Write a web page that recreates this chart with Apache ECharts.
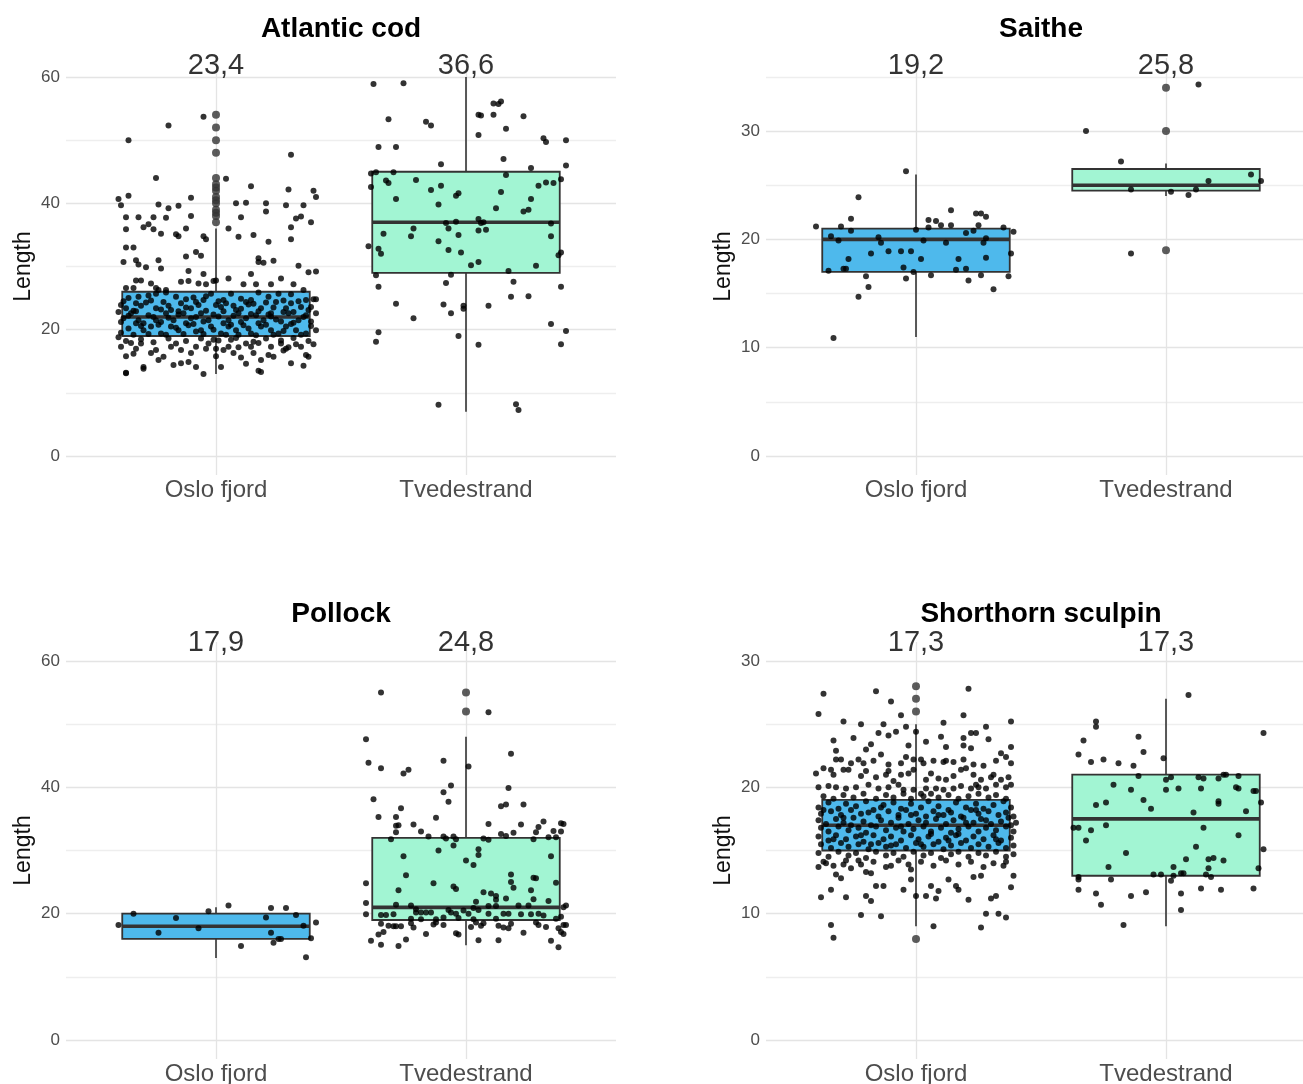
<!DOCTYPE html>
<html><head><meta charset="utf-8">
<script src="https://cdn.jsdelivr.net/npm/echarts@6/dist/echarts.min.js"></script>
<style>html,body{margin:0;padding:0;background:#fff}#c{width:1303px;height:1084px}</style>
</head><body><div id="c"></div><script>
// ---------- data ----------
const sites = ['Oslo fjord', 'Tvedestrand'];
const species = ['Atlantic cod', 'Saithe', 'Pollock', 'Shorthorn sculpin'];

// mean lengths per site
const meanCod = [23.4, 36.6];
const meanSai = [19.2, 25.8];
const meanPol = [17.9, 24.8];
const meanScu = [17.3, 17.3];

// box stats per site: [lower whisker, Q1, median, Q3, upper whisker]
const boxCod = [[13, 19, 22, 26, 36], [7, 29, 37, 45, 60]];
const boxSai = [[11, 17, 20, 21, 26], [24, 24.5, 25, 26.5, 27]];
const boxPol = [[13, 16, 18, 20, 21], [15, 19, 21, 32, 48]];
const boxScu = [[9, 15, 17, 19, 25], [9, 13, 17.5, 21, 27]];

// boxplot outliers
const outCodOslo = [37, 38, 38.5, 39, 40, 40.5, 41, 42, 42.5, 43, 44, 48, 50, 52, 54];
const outCodTved = [];
const outSaiOslo = [];
const outSaiTved = [34, 30, 19];
const outPolOslo = [];
const outPolTved = [55, 52];
const outScuOslo = [28, 27, 26, 8];
const outScuTved = [];

// jittered observations: [horizontal jitter, length]
const jitCodOslo = [
[-0.05,53.7],[-0.19,52.3],[-0.35,50.0],[0.30,47.7],[-0.24,44.0],[0.04,43.9],[0.14,42.7],[0.29,42.2],[0.39,42.0],[0.40,41.0],[-0.39,40.7],[-0.35,41.2],[-0.38,39.7],[-0.10,40.9],[-0.23,39.8],[-0.15,39.6],[-0.19,39.2],[0.08,40.0],[0.12,40.1],[0.20,40.0],[0.28,39.7],[0.35,39.7],[0.20,38.7],[-0.36,37.8],[-0.31,37.8],[-0.25,37.8],[-0.20,37.7],[-0.10,38.0],[0.10,37.8],[0.32,37.6],[0.34,37.9],[0.38,37.0],[-0.36,35.9],[-0.29,36.2],[-0.27,36.7],[-0.25,35.9],[-0.22,35.2],[-0.12,36.0],[-0.16,35.1],[-0.15,34.8],[0.05,36.0],[0.30,36.2],[-0.05,34.8],[-0.04,34.3],[0.09,34.7],[0.15,35.0],[0.30,34.3],[0.21,33.9],[-0.36,33.0],[-0.33,33.0],[-0.08,32.3],[-0.06,31.7],[-0.12,31.6],[-0.37,30.7],[-0.32,31.0],[-0.31,30.3],[-0.28,29.9],[-0.23,31.0],[-0.22,29.7],[0.17,31.3],[0.17,30.7],[0.19,30.6],[0.23,30.9],[0.33,30.1],[-0.11,29.3],[0.37,29.1],[0.40,29.2],[0.14,28.8],[-0.05,28.8],[0.05,28.1],[0.26,28.1],[-0.32,27.8],[-0.30,27.8],[-0.14,27.6],[-0.11,27.7],[-0.01,27.7],[0.00,27.8],[0.16,27.2],[0.22,27.2],[0.31,27.2],[-0.36,26.6],[-0.33,26.6],[-0.26,27.3],[-0.24,26.6],[-0.23,26.3],[-0.20,26.3],[-0.07,27.3],[-0.04,27.2],[0.11,27.2],
[-0.35,25.0],[-0.31,25.2],[-0.27,25.4],[-0.24,25.7],[-0.20,25.9],[-0.16,25.2],[-0.12,24.8],[-0.09,25.1],[-0.04,25.3],[-0.02,25.7],[0.03,24.7],[0.06,25.7],[0.10,24.9],[0.14,24.7],[0.17,25.9],[0.21,25.2],[0.25,25.7],[0.30,25.6],[0.35,26.3],[0.36,24.7],[0.39,24.8],
[-0.38,23.9],[-0.36,23.4],[-0.32,24.2],[-0.28,24.3],[-0.24,23.4],[-0.21,24.4],[-0.18,23.1],[-0.14,24.2],[-0.10,23.4],[-0.07,23.9],[-0.05,24.7],[0.00,23.9],[0.02,23.6],[0.04,24.2],[0.08,23.1],[0.12,24.4],[0.15,24.1],[0.18,23.4],[0.22,22.6],[0.24,24.4],[0.28,23.4],[0.30,24.2],[0.34,23.6],[0.37,23.1],[0.40,24.8],
[-0.37,24.5],[-0.33,23.0],[-0.30,23.8],[-0.26,24.6],[-0.22,23.2],[-0.19,23.8],[-0.15,22.9],[-0.12,23.5],[-0.08,24.4],[-0.04,23.0],[0.01,24.5],[0.03,22.9],[0.07,23.8],[0.10,23.3],[0.13,24.0],[0.17,22.9],[0.20,24.3],[0.23,23.5],[0.27,24.6],[0.31,22.8],[0.33,24.5],[0.38,23.6],
[-0.39,22.8],[-0.37,21.8],[-0.34,22.6],[-0.31,21.5],[-0.27,22.3],[-0.24,21.5],[-0.20,22.6],[-0.17,21.5],[-0.13,22.6],[-0.10,21.8],[-0.06,22.6],[-0.03,21.5],[0.01,22.1],[0.05,21.5],[0.09,22.6],[0.12,21.8],[0.16,22.3],[0.19,21.5],[0.22,22.1],[0.26,21.3],[0.29,22.6],[0.33,21.5],[0.36,22.3],[0.40,22.6],
[-0.38,21.2],[-0.35,22.2],[-0.32,22.9],[-0.29,21.0],[-0.25,22.0],[-0.22,21.2],[-0.19,21.9],[-0.15,22.4],[-0.12,21.0],[-0.08,22.0],[-0.05,21.3],[-0.01,22.4],[0.03,21.0],[0.07,22.2],[0.10,21.2],[0.14,22.5],[0.17,21.0],[0.21,22.4],[0.24,21.6],[0.27,22.8],[0.31,21.1],[0.35,22.0],[0.38,21.3],
[-0.35,20.2],[-0.32,21.0],[-0.29,19.9],[-0.26,20.5],[-0.22,19.4],[-0.18,20.5],[-0.15,19.9],[-0.11,20.7],[-0.08,19.7],[-0.06,19.9],[-0.02,20.5],[0.02,19.4],[0.05,20.5],[0.08,19.9],[0.11,20.7],[0.14,19.4],[0.18,20.5],[0.22,19.9],[0.25,19.4],[0.28,20.5],[0.32,19.9],[0.36,19.4],[0.40,19.9],
[-0.38,19.5],[-0.33,19.2],[-0.30,20.6],[-0.27,19.3],[-0.23,20.8],[-0.20,19.2],[-0.16,20.3],[-0.13,19.3],[-0.09,20.9],[-0.05,19.3],[-0.01,20.0],[0.04,19.2],[0.06,20.8],[0.09,19.2],[0.13,20.2],[0.16,19.1],[0.20,20.8],[0.23,19.2],[0.27,19.8],[0.30,20.9],[0.34,19.2],[0.38,20.6],
[-0.39,18.8],[-0.38,17.3],[-0.36,15.8],[-0.34,17.9],[-0.32,17.0],[-0.30,17.8],[-0.29,14.1],[-0.26,16.3],[-0.23,15.2],[-0.21,15.7],[-0.18,17.3],[-0.14,16.8],[-0.14,14.7],[-0.11,14.9],[-0.08,17.3],[-0.08,14.1],[-0.05,13.0],[-0.03,17.8],[-0.01,18.4],[0.00,17.0],[0.02,14.1],[0.03,16.8],[0.05,17.3],[0.07,16.3],[0.10,15.6],[0.12,17.8],[0.15,16.3],[0.17,17.9],[0.17,13.5],[0.18,15.2],[0.21,16.0],[0.22,17.3],[0.26,17.8],[0.27,16.7],[0.29,17.2],[0.30,14.7],[0.32,17.7],[0.36,16.0],[0.37,15.7],[0.39,17.7],[-0.36,13.2],[-0.29,13.8],[-0.24,16.8],[-0.16,17.8],[-0.10,16.3],[-0.04,17.0],[0.06,18.4],[0.09,17.2],[0.14,17.3],[0.23,15.7],[0.28,17.0],[0.34,17.3],
[-0.36,18.2],[-0.30,18.5],[-0.25,18.0],[-0.19,18.6],[-0.12,18.2],[-0.06,18.6],[0.01,18.3],[0.08,18.7],[0.15,18.1],[0.20,18.6],[0.26,18.3],[0.31,18.7],[0.37,18.2],[-0.33,16.2],[0.00,15.8],[0.12,14.6],[0.35,14.3],[-0.17,14.4],[-0.36,13.1],[0.18,13.3]
];
const jitCodTved = [
[-0.37,58.9],[-0.25,59.0],[-0.31,53.3],[-0.16,52.9],[-0.14,52.3],[-0.35,48.9],[-0.28,48.9],[-0.10,46.2],[-0.38,44.7],[-0.36,44.9],[-0.29,44.9],[-0.38,42.6],[-0.32,43.6],[-0.31,43.2],[-0.20,43.7],[-0.28,40.7],[-0.14,42.1],[-0.10,42.8],[-0.11,39.8],[-0.04,41.2],[-0.03,41.6],[-0.08,36.9],[-0.04,37.1],[-0.07,36.0],[-0.03,35.0],[-0.21,36.0],[-0.22,34.8],[-0.33,35.2],[-0.39,33.2],[-0.35,32.8],[-0.34,32.0],[-0.11,34.0],[-0.07,32.6],[-0.02,32.2],[0.02,30.2],[0.05,30.7],[-0.36,28.6],[-0.35,26.8],[-0.06,28.7],[-0.08,27.4],[-0.28,24.1],[-0.21,21.8],[-0.09,24.0],[-0.06,22.6],[-0.01,23.8],[-0.01,23.3],[-0.03,19.0],[-0.35,19.6],[-0.36,18.1],[-0.11,8.1],
[0.05,54.0],[0.06,53.9],[0.11,54.0],[0.11,55.8],[0.13,55.7],[0.14,56.1],[0.23,53.8],[0.16,51.8],[0.05,50.8],[0.31,50.3],[0.32,49.7],[0.40,50.0],[0.15,47.0],[0.26,45.6],[0.40,46.0],[0.16,44.5],[0.29,42.8],[0.32,43.3],[0.35,43.2],[0.38,43.8],[0.14,41.8],[0.26,40.7],[0.12,39.2],[0.23,38.7],[0.25,39.0],[0.05,37.5],[0.06,36.9],[0.07,37.0],[0.05,35.7],[0.08,35.8],[0.34,36.8],[0.34,34.8],[0.38,32.2],[0.37,31.8],[0.28,30.1],[0.17,29.3],[0.19,27.6],[0.38,26.8],[0.18,25.2],[0.25,25.3],[0.09,23.8],[0.34,20.9],[0.40,19.8],[0.38,17.7],[0.05,17.6],[0.20,8.2],[0.21,7.3]
];
const jitSaiOslo = [
[-0.40,21.2],[-0.35,17.1],[-0.34,20.3],[-0.31,19.9],[-0.30,21.2],[-0.33,10.9],[-0.29,17.3],[-0.28,17.3],[-0.27,18.2],[-0.26,21.9],[-0.26,20.8],[-0.23,23.9],[-0.23,14.7],[-0.20,16.6],[-0.19,15.6],[-0.18,18.7],[-0.15,20.2],[-0.14,19.7],[-0.11,18.9],[-0.06,18.9],[-0.05,17.4],[-0.04,26.3],[-0.04,16.4],[-0.02,18.9],[-0.01,17.0],[0.00,20.9],[0.02,18.2],[0.03,19.9],[0.05,21.8],[0.05,21.1],[0.06,16.7],[0.08,21.7],[0.10,21.3],[0.12,19.7],[0.14,22.7],[0.14,21.3],[0.17,18.2],[0.16,17.2],[0.20,17.3],[0.20,20.6],[0.21,16.2],[0.23,20.8],[0.24,22.4],[0.26,22.4],[0.25,21.3],[0.26,16.7],[0.27,19.7],[0.28,22.1],[0.28,20.1],[0.28,18.3],[0.31,15.4],[0.35,21.1],[0.37,16.6],[0.38,18.7],[0.39,20.7]
];
const jitSaiTved = [
[-0.32,30.0],[-0.18,27.2],[-0.14,24.6],[-0.14,18.7],[0.02,24.4],[0.09,24.1],[0.12,24.6],[0.13,34.3],[0.17,25.4],[0.34,26.0],[0.38,25.4]
];
const jitPolOslo = [
[-0.39,18.2],[-0.33,20.0],[-0.23,17.0],[-0.16,19.3],[-0.07,17.7],[-0.03,20.4],[0.05,21.3],[0.10,14.9],[0.20,19.4],[0.22,20.9],[0.22,17.0],[0.23,15.4],[0.25,16.0],[0.26,16.0],[0.28,20.9],[0.32,19.8],[0.35,18.1],[0.36,13.1],[0.38,16.1],[0.40,18.6]
];
const jitPolTved = [
[-0.34,55.0],[0.09,51.9],[-0.40,47.6],[-0.39,43.9],[-0.34,43.0],[-0.25,42.2],[-0.23,42.8],[-0.09,44.2],[0.01,43.3],[0.18,45.3],[-0.06,40.3],[-0.09,39.2],[-0.07,37.7],[0.17,39.9],[-0.37,38.1],[-0.26,36.7],[-0.35,35.3],[-0.28,35.3],[-0.28,33.9],[-0.27,34.0],[-0.28,32.9],[-0.21,34.1],[-0.18,33.0],[-0.12,35.2],[-0.15,32.2],[0.14,37.0],[0.16,37.3],[0.23,37.3],[0.09,34.2],[0.14,32.6],[0.16,32.3],[0.19,32.8],[0.22,34.1],[0.28,32.9],[0.29,33.7],[0.31,34.6],[0.35,33.1],[0.38,34.3],[0.39,34.2],[0.38,33.0],[-0.30,31.8],[-0.09,32.2],[-0.08,31.9],[-0.05,32.2],[-0.04,31.8],[0.07,31.9],[0.09,31.7],[0.27,31.8],[0.33,32.1],[0.36,32.1],
[-0.11,30.0],[-0.05,30.8],[-0.25,29.1],[0.05,30.2],[0.05,29.3],[0.00,28.4],[0.03,27.7],[0.34,29.1],[-0.24,26.1],[-0.13,24.8],[-0.40,24.8],[-0.27,23.7],[-0.05,24.3],[-0.04,23.9],[0.18,26.2],[0.18,25.0],[0.19,24.1],[0.27,25.7],[0.28,25.6],[0.26,23.7],[0.36,24.9],[0.07,23.4],[0.10,23.2],[0.12,22.8],[0.12,22.2],[0.16,22.4],[0.27,22.3],[0.33,22.0],[-0.40,21.7],[-0.28,21.4],[-0.22,21.3],[0.04,21.9],[0.03,20.9],[0.09,21.2],[0.12,21.2],[0.21,21.3],[0.25,21.3],[0.40,21.3],[0.39,21.0],[-0.20,20.7],[-0.20,20.2],[-0.18,20.2],[-0.16,20.2],[-0.14,20.2],[-0.40,19.9],[-0.34,19.8],[-0.32,19.8],[-0.29,19.9],[-0.07,20.6],[-0.06,20.2],[-0.04,20.0],[-0.01,20.5],[0.01,20.0],[0.05,20.6],[0.09,20.0],[0.15,20.0],[0.17,20.0],[0.22,19.9],[0.26,19.9],[0.29,20.0],[0.31,19.7],[0.36,19.2],[0.38,19.5],[-0.22,19.2],[-0.18,19.1],[-0.12,19.1],[-0.09,19.4],[-0.03,19.3],[0.03,19.1],[0.12,19.2],
[-0.34,18.4],[-0.31,18.1],[-0.29,18.0],[-0.28,18.0],[-0.26,18.0],[-0.22,18.5],[-0.21,17.8],[-0.13,18.3],[-0.12,18.6],[-0.09,18.2],[0.02,17.9],[0.04,18.6],[0.06,18.1],[0.07,18.5],[0.13,18.1],[0.15,17.8],[0.18,18.4],[0.17,17.7],[0.28,18.6],[0.29,18.2],[0.32,17.9],[0.37,17.7],[0.39,18.2],[0.40,18.2],[-0.35,16.7],[-0.33,17.1],[-0.16,16.8],[-0.04,16.9],[-0.03,16.7],[0.23,17.0],[0.38,17.1],[0.39,16.8],[-0.38,15.7],[-0.34,15.1],[-0.27,14.9],[-0.24,15.9],[0.05,15.8],[0.13,15.8],[0.34,15.7],[0.37,14.7]
];
const jitScuOslo = [
[-0.37,27.4],[-0.16,27.6],[0.21,27.8],[-0.10,26.8],[-0.39,25.8],[-0.06,25.7],[0.19,25.7],[-0.29,25.2],[-0.22,25.0],[-0.13,25.0],[-0.04,24.8],[0.00,24.4],[0.11,25.1],[0.28,24.8],[0.38,25.2],[-0.25,23.9],[-0.15,24.3],[-0.11,24.1],[-0.08,24.4],[-0.33,23.7],[-0.18,23.4],[-0.20,23.0],[-0.14,22.6],[-0.03,23.3],[0.04,23.6],[0.10,24.0],[0.12,23.2],[0.19,23.9],[0.22,24.3],[0.24,24.3],[0.29,23.8],[0.19,23.3],[0.22,23.1],[0.38,23.2],[0.34,22.7],[-0.32,22.9],[-0.32,22.2],[-0.30,22.2],[-0.26,21.9],[-0.23,22.2],[-0.21,21.9],[-0.17,22.1],[-0.11,21.8],[-0.11,21.3],[-0.06,21.9],[-0.04,22.4],[-0.01,22.2],[0.02,22.2],[0.03,21.9],[0.07,22.1],[0.11,22.0],[0.12,22.1],[0.15,22.0],[0.19,22.2],[0.20,21.5],[0.23,21.8],[0.27,21.7],[0.32,22.1],[0.36,22.4],[0.38,21.9],
[-0.40,21.1],[-0.37,21.5],[-0.34,21.4],[-0.33,21.0],[-0.29,21.4],[-0.27,21.4],[-0.22,20.9],[-0.20,21.3],[-0.16,20.8],[-0.12,21.0],[-0.09,20.5],[-0.06,21.0],[-0.03,21.1],[-0.01,21.4],[0.04,20.6],[0.06,21.1],[0.09,20.7],[0.12,20.6],[0.15,20.9],[0.18,21.4],[0.23,21.0],[0.24,20.2],[0.26,20.6],[0.30,20.8],[0.31,21.0],[0.34,20.6],[0.37,20.8],
[-0.39,20.0],[-0.35,20.1],[-0.32,20.0],[-0.28,19.9],[-0.24,20.0],[-0.19,20.2],[-0.15,19.9],[-0.11,20.0],[-0.07,20.2],[-0.05,19.8],[-0.01,19.8],[0.02,19.5],[0.04,19.9],[0.08,19.9],[0.11,19.8],[0.15,19.9],[0.18,20.1],[0.22,19.9],[0.25,20.0],[0.28,19.9],[0.32,20.2],[0.36,20.0],[0.38,20.2],
[-0.37,19.3],[-0.33,19.1],[-0.29,19.4],[-0.25,19.2],[-0.21,19.5],[-0.16,19.1],[-0.12,19.4],[-0.09,19.2],[-0.05,19.5],[-0.02,19.1],[0.03,19.3],[0.06,19.5],[0.09,19.2],[0.13,19.4],[0.17,19.1],[0.21,19.3],[0.25,19.5],[0.29,19.2],[0.32,19.4],[0.36,19.1],
[-0.39,18.4],[-0.35,18.8],[-0.31,18.3],[-0.28,18.7],[-0.24,18.5],[-0.20,18.9],[-0.17,18.2],[-0.13,18.6],[-0.09,18.8],[-0.06,18.3],[-0.02,18.7],[0.02,18.4],[0.05,18.9],[0.09,18.5],[0.13,18.2],[0.16,18.8],[0.20,18.4],[0.24,18.7],[0.27,18.3],[0.31,18.6],[0.35,18.9],[0.38,18.4],
[-0.38,17.9],[-0.34,18.1],[-0.30,17.8],[-0.26,18.2],[-0.22,17.9],[-0.19,18.0],[-0.15,17.7],[-0.11,18.1],[-0.07,17.8],[-0.04,18.2],[0.00,17.9],[0.04,17.7],[0.07,18.1],[0.11,17.8],[0.14,18.0],[0.18,17.7],[0.22,18.2],[0.25,17.9],[0.29,18.1],[0.33,17.8],[0.36,18.0],[0.39,17.7],
[-0.39,17.4],[-0.36,17.1],[-0.32,17.5],[-0.29,17.2],[-0.25,17.6],[-0.21,17.3],[-0.18,17.0],[-0.14,17.4],[-0.10,17.2],[-0.07,17.6],[-0.03,17.1],[0.01,17.4],[0.04,17.2],[0.08,17.5],[0.12,17.1],[0.15,17.4],[0.19,17.6],[0.23,17.2],[0.26,17.5],[0.30,17.1],[0.34,17.3],[0.37,17.6],[0.40,17.2],
[-0.38,16.8],[-0.35,16.5],[-0.31,16.9],[-0.27,16.6],[-0.23,16.8],[-0.20,16.4],[-0.16,16.9],[-0.12,16.6],[-0.08,16.8],[-0.05,16.5],[-0.01,16.7],[0.03,16.9],[0.06,16.5],[0.10,16.8],[0.14,16.4],[0.17,16.7],[0.21,16.9],[0.25,16.5],[0.28,16.8],[0.32,16.6],[0.36,16.9],[0.39,16.5],
[-0.39,16.1],[-0.35,15.8],[-0.32,16.2],[-0.28,15.9],[-0.24,16.1],[-0.21,15.7],[-0.17,16.2],[-0.13,15.9],[-0.10,16.1],[-0.06,15.8],[-0.02,16.2],[0.01,15.9],[0.05,16.1],[0.09,15.7],[0.12,16.0],[0.16,16.2],[0.20,15.8],[0.23,16.1],[0.27,15.9],[0.31,16.2],[0.34,15.8],[0.38,16.0],
[-0.38,15.5],[-0.34,15.2],[-0.30,15.6],[-0.27,15.3],[-0.23,15.5],[-0.19,15.1],[-0.15,15.6],[-0.12,15.3],[-0.08,15.5],[-0.04,15.2],[0.00,15.6],[0.03,15.3],[0.07,15.5],[0.11,15.1],[0.14,15.4],[0.18,15.6],[0.22,15.2],[0.25,15.5],[0.29,15.3],[0.33,15.6],[0.36,15.2],[0.39,15.4],
[-0.39,14.8],[-0.35,14.5],[-0.31,14.9],[-0.27,14.6],[-0.24,14.8],[-0.20,14.4],[-0.16,14.9],[-0.12,14.6],[-0.09,14.8],[-0.05,14.5],[-0.01,14.9],[0.03,14.6],[0.06,14.8],[0.10,14.4],[0.14,14.7],[0.17,14.9],[0.21,14.5],[0.25,14.8],[0.28,14.6],[0.32,14.9],[0.36,14.5],[0.39,14.7],
[-0.37,14.1],[-0.33,13.8],[-0.28,14.2],[-0.22,13.9],[-0.17,14.1],[-0.12,13.7],[-0.07,14.2],[-0.03,13.9],[0.02,14.1],[0.07,13.8],[0.12,14.2],[0.17,13.9],[0.22,14.1],[0.27,13.7],[0.31,14.0],[0.35,13.8],
[-0.37,18.2],[-0.29,17.6],[-0.22,16.2],[-0.14,18.4],[-0.06,16.9],[0.02,15.5],[0.09,17.8],[0.17,16.3],[0.24,18.2],[0.32,15.9],[0.38,17.0],[-0.33,15.9],[-0.18,15.5],[-0.02,17.8],[0.13,15.8],[0.28,17.4],[-0.26,17.0],[0.06,16.3],[0.20,17.2],[-0.10,15.4],
[-0.39,13.7],[-0.36,14.0],[-0.32,13.1],[-0.30,12.8],[-0.26,13.6],[-0.20,13.3],[-0.18,13.2],[-0.16,12.2],[-0.13,12.2],[-0.10,13.8],[-0.05,11.9],[-0.02,12.7],[-0.02,13.5],[0.00,11.4],[0.04,11.4],[0.06,12.2],[0.08,11.2],[0.09,11.8],[0.13,12.7],[0.16,12.2],[0.17,11.9],[0.21,11.1],[0.23,12.9],[0.26,13.0],[0.30,11.2],[0.32,11.4],[0.36,14.1],[0.38,12.1],[0.39,13.0],[-0.38,11.3],[-0.34,11.9],[-0.28,11.3],[-0.20,11.4],[-0.18,11.0],[-0.22,9.9],[-0.14,9.8],[-0.34,9.1],[-0.33,8.1],[0.07,9.0],[0.26,8.9],[0.28,10.0],[0.33,10.0],[0.36,9.7],[-0.29,13.9],[-0.23,14.2]
];
const jitScuTved = [
[0.09,27.3],[0.39,24.3],[-0.28,25.2],[-0.28,24.8],[-0.33,23.7],[-0.11,24.0],[-0.35,22.6],[-0.09,22.8],[-0.30,22.0],[-0.25,22.2],[-0.19,21.9],[-0.13,21.7],[-0.01,22.3],[-0.11,20.9],[0.00,20.6],[0.02,20.8],[0.13,20.8],[0.15,20.7],[0.21,20.7],[0.23,21.0],[0.24,21.0],[0.29,20.9],[-0.21,20.2],[-0.14,19.8],[0.00,19.8],[0.05,19.9],[0.14,19.9],[0.28,20.0],[0.29,19.9],[0.35,19.7],[0.36,19.7],[-0.09,19.0],[-0.06,18.3],[-0.28,18.6],[-0.24,18.8],[0.21,18.9],[0.21,18.7],[0.38,18.8],[0.11,18.0],[0.32,18.1],[-0.37,16.8],[-0.35,16.8],[-0.30,16.6],[-0.24,17.0],[-0.32,15.8],[0.15,16.8],[0.29,16.2],[0.12,15.3],[-0.16,14.8],[0.39,15.1],[0.08,14.3],[0.17,14.3],[0.19,14.4],[0.23,14.2],[-0.23,13.7],[0.03,13.7],[0.17,13.6],[0.37,13.6],[-0.35,12.9],[-0.35,12.7],[-0.22,12.7],[-0.05,13.1],[-0.02,13.1],[0.02,12.6],[0.03,13.0],[0.06,13.2],[0.07,13.2],[0.16,13.1],[0.18,12.9],[-0.35,11.9],[-0.28,11.6],[-0.08,11.7],[0.06,11.6],[0.14,12.0],[0.22,11.9],[0.35,12.0],[-0.26,10.7],[-0.14,11.4],[0.06,10.3],[-0.17,9.1]
];

// ---------- styling / layout ----------
const siteColors = ['#4EB9EC', '#A2F5D3'];
const FONT = '"Liberation Sans", Arial, Helvetica, sans-serif';
const GRID_MAJOR = '#e4e4e4', GRID_MINOR = '#eeeeee';
const PW = 550, PH = 417;
const panels = [
  {name: species[0], left: 66, top: 58, yMin: -3, yMax: 63, tickMax: 60, step: 10, lab: 20, box: boxCod, means: meanCod, out: [outCodOslo, outCodTved], jit: [jitCodOslo, jitCodTved], mOff: 8, tTop: 15},
  {name: species[1], left: 766, top: 58, yMin: -1.75, yMax: 36.75, tickMax: 35, step: 5, lab: 10, box: boxSai, means: meanSai, out: [outSaiOslo, outSaiTved], jit: [jitSaiOslo, jitSaiTved], mOff: 8, tTop: 15},
  {name: species[2], left: 66, top: 642, yMin: -3, yMax: 63, tickMax: 60, step: 10, lab: 20, box: boxPol, means: meanPol, out: [outPolOslo, outPolTved], jit: [jitPolOslo, jitPolTved], mOff: 1, tTop: 600},
  {name: species[3], left: 766, top: 642, yMin: -1.5, yMax: 31.5, tickMax: 30, step: 5, lab: 10, box: boxScu, means: meanScu, out: [outScuOslo, outScuTved], jit: [jitScuOslo, jitScuTved], mOff: 1, tTop: 600}
];

function renderBox(params, api) {
  const x = api.value(0);
  const hw = 0.375;
  const pMin = api.coord([x, api.value(1)]);
  const pQ1 = api.coord([x - hw, api.value(2)]);
  const pMed = api.coord([x, api.value(3)]);
  const pQ3 = api.coord([x + hw, api.value(4)]);
  const pMax = api.coord([x, api.value(5)]);
  const stroke = '#333333';
  return {
    type: 'group',
    children: [
      {type: 'line', shape: {x1: pMax[0], y1: pMax[1], x2: pMax[0], y2: pQ3[1]}, style: {stroke, lineWidth: 1.6}},
      {type: 'line', shape: {x1: pMin[0], y1: pMin[1], x2: pMin[0], y2: pQ1[1]}, style: {stroke, lineWidth: 1.6}},
      {type: 'rect', shape: {x: pQ1[0], y: pQ3[1], width: pQ3[0] - pQ1[0], height: pQ1[1] - pQ3[1]},
        style: {fill: siteColors[x - 1], stroke, lineWidth: 1.8}},
      {type: 'line', shape: {x1: pQ1[0], y1: pMed[1], x2: pQ3[0], y2: pMed[1]}, style: {stroke, lineWidth: 3.6}}
    ]
  };
}

const grid = [], xAxis = [], yAxis = [], series = [], title = [];
panels.forEach((p, k) => {
  const g0 = grid.length;
  const span = p.yMax - p.yMin;
  const tickTop = p.top + (p.yMax - p.tickMax) / span * PH;
  const tickBot = p.top + (p.yMax - 0) / span * PH;
  const common = {outerBoundsMode: 'none', containLabel: false};
  grid.push(Object.assign({left: p.left, top: p.top, width: PW, height: PH}, common));
  grid.push(Object.assign({left: p.left, top: tickTop, width: PW, height: tickBot - tickTop}, common));
  grid.push(Object.assign({left: p.left + PW * 0.6 / 2.2, top: p.top, width: PW / 2.2, height: PH}, common));

  xAxis.push({gridIndex: g0, type: 'value', min: 0.4, max: 2.6, show: false});
  yAxis.push({gridIndex: g0, type: 'value', min: p.yMin, max: p.yMax, show: false});

  xAxis.push({gridIndex: g0 + 1, type: 'value', min: 0, max: 1, show: false});
  yAxis.push({
    gridIndex: g0 + 1, type: 'value', min: 0, max: p.tickMax, interval: p.step,
    axisLine: {show: false}, axisTick: {show: false},
    axisLabel: {formatter: v => (v % p.lab === 0 ? String(v) : ''), fontSize: 17, color: '#4d4d4d', margin: 6, fontFamily: FONT},
    splitLine: {show: true, lineStyle: {color: [GRID_MAJOR, GRID_MINOR], width: 1.3}},
    name: 'Length', nameLocation: 'middle', nameGap: 31,
    nameTextStyle: {fontSize: 23, color: '#111', fontFamily: FONT}
  });

  xAxis.push({
    gridIndex: g0 + 2, type: 'category', data: sites, boundaryGap: false,
    axisLine: {show: false}, axisTick: {show: false},
    axisLabel: {fontSize: 24, color: '#4d4d4d', margin: 3, fontFamily: FONT},
    splitLine: {show: true, lineStyle: {color: GRID_MAJOR, width: 1.3}}
  });
  yAxis.push({gridIndex: g0 + 2, type: 'value', min: 0, max: 1, show: false});

  title.push({
    text: p.name, left: p.left + PW / 2, top: p.tTop, textAlign: 'center', padding: 0,
    textStyle: {fontSize: 28, fontWeight: 'bold', color: '#000', fontFamily: FONT}
  });

  series.push({
    type: 'custom', xAxisIndex: g0, yAxisIndex: g0, renderItem: renderBox,
    encode: {x: 0, y: [1, 2, 3, 4, 5]}, z: 2,
    data: p.box.map((b, i) => [i + 1].concat(b))
  });
  const outData = [];
  p.out.forEach((arr, i) => arr.forEach(v => outData.push([i + 1, v])));
  series.push({
    type: 'scatter', xAxisIndex: g0, yAxisIndex: g0, z: 3, symbolSize: 8,
    itemStyle: {color: '#333333'}, data: outData, silent: true
  });
  const jData = [];
  p.jit.forEach((arr, i) => arr.forEach(([j, v]) => jData.push([i + 1 + j, v])));
  series.push({
    type: 'scatter', xAxisIndex: g0, yAxisIndex: g0, z: 4, symbolSize: 6,
    itemStyle: {color: '#000000'}, data: jData, silent: true
  });
  series.push({
    type: 'scatter', xAxisIndex: g0, yAxisIndex: g0, z: 5, symbolSize: 0, silent: true, clip: false,
    data: p.means.map((m, i) => [i + 1, p.yMax, m]),
    label: {
      show: true, position: 'inside', offset: [0, p.mOff], fontSize: 29, color: '#000', fontFamily: FONT,
      formatter: prm => prm.value[2].toFixed(1).replace('.', ',')
    }
  });
});

const chart = echarts.init(document.getElementById('c'), null, {renderer: 'canvas'});
chart.setOption({
  animation: false,
  backgroundColor: '#ffffff',
  textStyle: {fontFamily: FONT},
  title, grid, xAxis, yAxis, series
});
</script></body></html>
